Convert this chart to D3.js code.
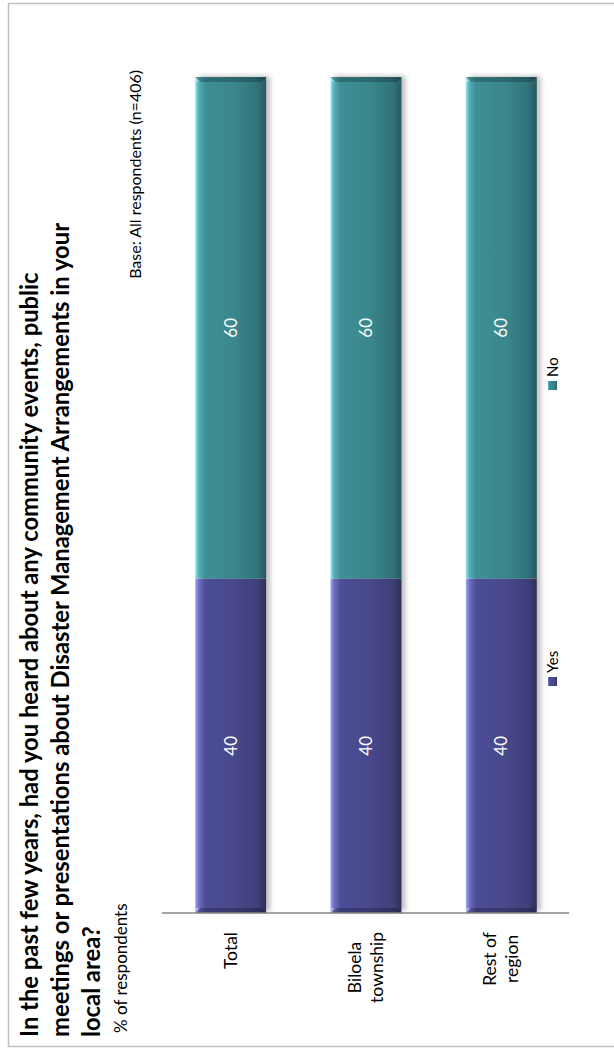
<!DOCTYPE html>
<html>
<head>
<meta charset="utf-8">
<script src="https://cdn.jsdelivr.net/npm/d3@7"></script>
<style>
body { margin: 0; background: #fff; }
svg { display: block; }
text { font-family: Lato, "Open Sans", sans-serif; }
</style>
</head>
<body>
<svg width="614" height="1050"></svg>
<script>
// DATA
const categories = ["Total", "Biloela township", "Rest of region"];
const categoryLines = [["Total"], ["Biloela", "township"], ["Rest of", "region"]];
const seriesNames = ["Yes", "No"];
const yesValues = [40, 40, 40];
const noValues = [60, 60, 60];
const titleLines = [
    "In the past few years, had you heard about any community events, public",
    "meetings or presentations about Disaster Management Arrangements in your",
    "local area?"
];
const subtitle = "% of respondents";
const baseNote = "Base: All respondents (n=406)";

const rows = categories.map((c, i) => ({ cat: c, Yes: yesValues[i], No: noValues[i] }));

const svg = d3.select("svg");

// whole chart is drawn landscape then turned a quarter to the left
const W = 1050;
const root = svg.append("g")
    .attr("transform", `translate(0,${W}) rotate(-90)`);

// GRADIENTS
const defs = svg.append("defs");
const palettes = {
    Yes: ["#a3a5f5", "#6e6fc2", "#4d4d97", "#48488b", "#3f3f79", "#2f2f58"],
    No: ["#90eaf3", "#55aeb6", "#3e9096", "#3a878c", "#32727a", "#285860"]
};
const offs = [0, 0.05, 0.14, 0.55, 0.88, 1];
seriesNames.forEach(s => {
    const g = defs.append("linearGradient")
        .attr("id", "grad" + s)
        .attr("x1", 0).attr("y1", 0).attr("x2", 0).attr("y2", 1);
    palettes[s].forEach((c, i) => g.append("stop").attr("offset", offs[i]).attr("stop-color", c));
});
defs.append("filter").attr("id", "blur")
    .attr("x", "-20%").attr("y", "-20%").attr("width", "140%").attr("height", "140%")
    .append("feGaussianBlur").attr("stdDeviation", 2.5);

// FRAME
root.append("rect")
    .attr("x", 3.5).attr("y", 8.5)
    .attr("width", 1043).attr("height", 620)
    .attr("fill", "none")
    .attr("stroke", "#bfbfbf")
    .attr("stroke-width", 1.5);

// TITLE
root.append("g").selectAll("text")
    .data(titleLines)
    .join("text")
    .attr("x", 13)
    .attr("y", (d, i) => 38 + i * 31)
    .attr("font-size", "23.8px")
    .attr("font-weight", "bold")
    .attr("fill", "#000")
    .text(d => d);

root.append("text")
    .attr("x", 17)
    .attr("y", 127)
    .attr("font-size", "17px")
    .attr("fill", "#000")
    .text(subtitle);

root.append("text")
    .attr("x", 980)
    .attr("y", 141)
    .attr("text-anchor", "end")
    .attr("font-size", "16px")
    .attr("fill", "#000")
    .text(baseNote);

// SCALES
const xScale = d3.scaleLinear().domain([0, 100]).range([137, 973]);
const yScale = d3.scaleBand().domain(categories).range([163, 569])
    .paddingInner(0.476).paddingOuter(0.238);
const bw = yScale.bandwidth();

const stacked = d3.stack().keys(seriesNames)(rows);

// SHADOWS
root.append("g").selectAll("rect")
    .data(rows)
    .join("rect")
    .attr("x", xScale(0) + 2)
    .attr("y", d => yScale(d.cat) + 4)
    .attr("width", d => xScale(d.Yes + d.No) - xScale(0) - 1)
    .attr("height", bw)
    .attr("fill", "#8a8a8a")
    .attr("opacity", 0.55)
    .attr("filter", "url(#blur)");

// BARS
const series = root.append("g").selectAll("g")
    .data(stacked)
    .join("g")
    .attr("fill", d => `url(#grad${d.key})`);

series.selectAll("rect")
    .data(d => d)
    .join("rect")
    .attr("x", d => xScale(d[0]))
    .attr("y", d => yScale(d.data.cat))
    .attr("width", d => xScale(d[1]) - xScale(d[0]))
    .attr("height", bw);

// BEVELS at both ends of each stacked bar
const bev = 5;
const ends = root.append("g");
rows.forEach(d => {
    const y0 = yScale(d.cat), y1 = y0 + bw;
    const lo = xScale(0), hi = xScale(d.Yes + d.No);
    ends.append("polygon")
        .attr("points", [[hi, y0], [hi, y1], [hi - bev, y1 - bev], [hi - bev, y0 + bev]].join(" "))
        .attr("fill", "rgba(0,0,0,0.22)");
    ends.append("polygon")
        .attr("points", [[hi, y0], [hi - bev, y0 + bev], [hi - bev, y0]].join(" "))
        .attr("fill", "rgba(255,255,255,0.25)");
    ends.append("polygon")
        .attr("points", [[lo, y0], [lo, y1], [lo + bev, y1 - bev], [lo + bev, y0 + bev]].join(" "))
        .attr("fill", "rgba(0,0,0,0.22)");
    ends.append("polygon")
        .attr("points", [[lo, y0], [lo + bev, y0 + bev], [lo + bev, y0]].join(" "))
        .attr("fill", "rgba(255,255,255,0.3)");
});

// VALUE LABELS
series.selectAll("text")
    .data(d => d)
    .join("text")
    .attr("x", d => (xScale(d[0]) + xScale(d[1])) / 2)
    .attr("y", d => yScale(d.data.cat) + bw / 2)
    .attr("dy", "0.35em")
    .attr("text-anchor", "middle")
    .attr("font-size", "17px")
    .attr("fill", "#fff")
    .text(d => d[1] - d[0]);

// AXIS
const axis = root.append("g")
    .attr("transform", `translate(${xScale(0)},0)`)
    .call(d3.axisLeft(yScale).tickSize(0).tickFormat(""));
axis.select(".domain")
    .attr("stroke", "#868686")
    .attr("stroke-width", 1.5)
    .attr("d", `M0,${yScale.range()[0] - 1}V${yScale.range()[1]}`);

// CATEGORY LABELS: centred block, right aligned near the axis
const catG = root.append("g");
categories.forEach((c, i) => {
    const t = catG.append("text")
        .attr("font-size", "17.5px")
        .attr("fill", "#000")
        .attr("text-anchor", "middle");
    const lines = categoryLines[i];
    lines.forEach(l => t.append("tspan").text(l));
    const wMax = d3.max(t.selectAll("tspan").nodes(), n => n.getComputedTextLength());
    const cx = xScale(0) - 19 - wMax / 2;
    const yMid = yScale(c) + bw / 2;
    t.selectAll("tspan")
        .attr("x", cx)
        .attr("y", (d, j) => yMid + (j - (lines.length - 1) / 2) * 22)
        .attr("dy", "0.35em");
});

// LEGEND
const legendU = [368, 664];
const legend = root.append("g").selectAll("g")
    .data(seriesNames)
    .join("g")
    .attr("transform", (d, i) => `translate(${legendU[i]},553)`);
legend.append("rect")
    .attr("x", -4).attr("y", -5)
    .attr("width", 9).attr("height", 9)
    .attr("fill", d => `url(#grad${d})`);
legend.append("text")
    .attr("x", 9)
    .attr("dy", "0.35em")
    .attr("font-size", "15px")
    .attr("fill", "#000")
    .text(d => d);
</script>
</body>
</html>
